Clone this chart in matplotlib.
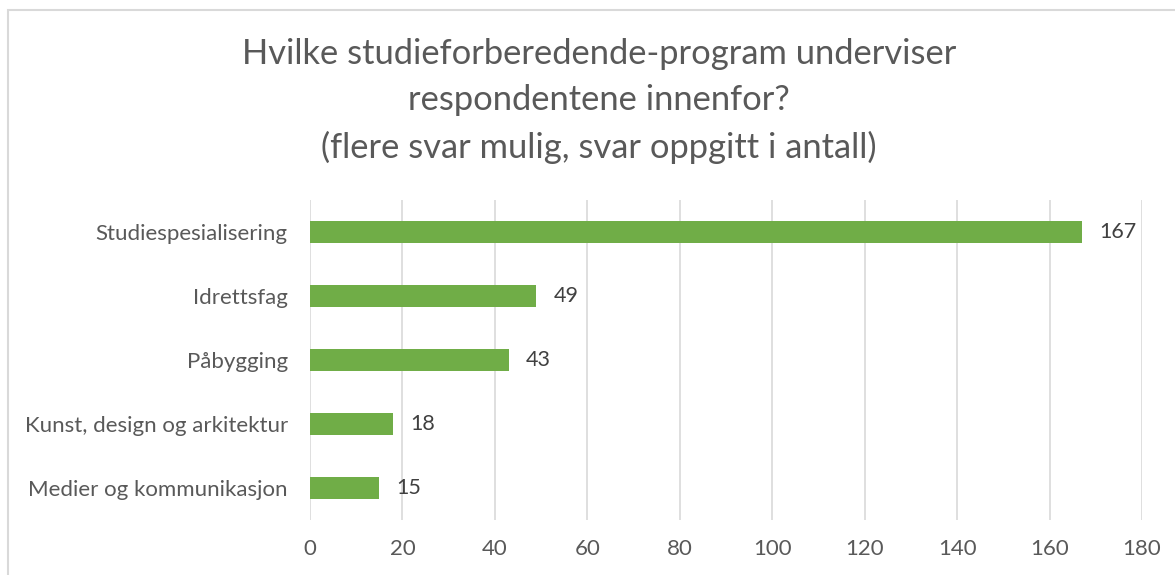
import matplotlib
matplotlib.use("Agg")
import matplotlib.pyplot as plt
from matplotlib.patches import Rectangle

categories = ["Studiespesialisering", "Idrettsfag", "Påbygging",
              "Kunst, design og arkitektur", "Medier og kommunikasjon"]
values = [167, 49, 43, 18, 15]
xticks = [0, 20, 40, 60, 80, 100, 120, 140, 160, 180]
title = ("Hvilke studieforberedende-program underviser\n"
         "respondentene innenfor?\n"
         "(flere svar mulig, svar oppgitt i antall)")

plt.rcParams['font.family'] = ['Lato', 'DejaVu Sans']

fig = plt.figure(figsize=(11.75, 5.75), dpi=100)
fig.patch.set_facecolor("white")
# outer chart border
fig.patches.append(Rectangle((8/1175, -0.05), 1.2, 1 - 10/575 + 0.05,
                             transform=fig.transFigure, fill=False,
                             edgecolor="#D9D9D9", linewidth=1.5))

ax = fig.add_axes([310/1175, 1 - 520/575, (1142 - 310)/1175, 320/575])
ypos = list(range(len(categories)))
ax.barh(ypos, values, height=0.34, color="#70AD47", zorder=3)
for y, v in zip(ypos, values):
    ax.text(v + 3.7, y, str(v), va="center", ha="left",
            fontsize=15.5, color="#404040")

ax.set_xlim(0, 180)
ax.set_ylim(len(categories) - 0.5, -0.5)
ax.set_xticks(xticks)
ax.set_xticklabels([str(t) for t in xticks])
ax.set_yticks(ypos)
ax.set_yticklabels(categories)
ax.tick_params(axis="both", length=0, labelsize=16, colors="#595959")
ax.tick_params(axis="x", pad=14)
ax.tick_params(axis="y", pad=16)
ax.grid(axis="x", color="#D9D9D9", linewidth=1.2, zorder=0)
for s in ax.spines.values():
    s.set_visible(False)

fig.text(599/1175, 1 - 101/575, title, ha="center", va="center",
         fontsize=24.8, color="#595959", linespacing=1.55)

fig.savefig("out.png", dpi=100)
